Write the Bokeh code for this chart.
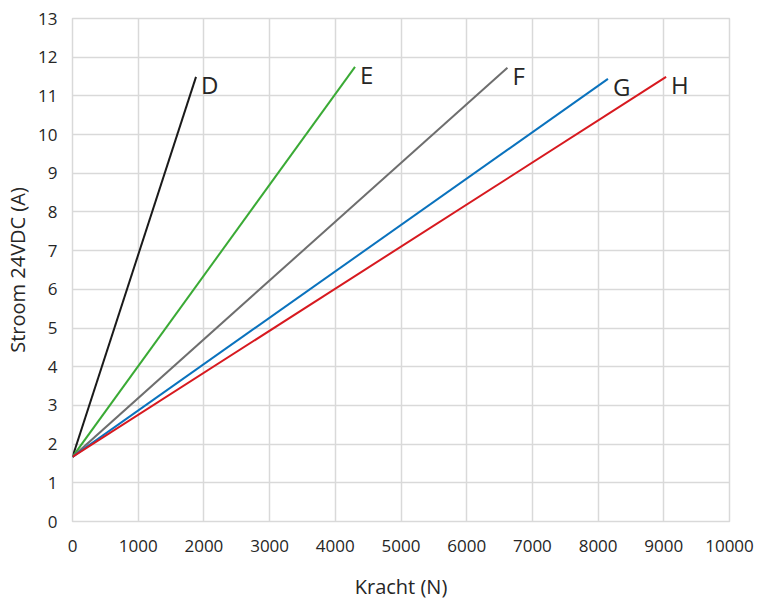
from bokeh.plotting import figure
from bokeh.embed import file_html
from bokeh.resources import INLINE
from bokeh.models import Range1d, FixedTicker, ColumnDataSource
from bokeh.core.properties import value

# series: start point (shared) and end point of each line
names = ["D", "E", "F", "G", "H"]
x_start = [0, 0, 0, 0, 0]
y_start = [1.67, 1.67, 1.67, 1.67, 1.67]
x_end = [1880, 4300, 6620, 8150, 9035]
y_end = [11.49, 11.75, 11.73, 11.44, 11.49]
colors = ["#1a1a1a", "#3aaa35", "#6e6e6e", "#0a72bd", "#d7191f"]

x_ticks = [0, 1000, 2000, 3000, 4000, 5000, 6000, 7000, 8000, 9000, 10000]
y_ticks = list(range(0, 14))

FONT = "Open Sans"
TXT = "#262626"
GRID = "#d9d9d9"

p = figure(width=774, height=605, output_backend="svg", toolbar_location=None,
           x_range=Range1d(0, 10000), y_range=Range1d(0, 13),
           frame_width=657, frame_height=503,
           min_border_left=72, min_border_top=18, min_border_right=45,
           min_border_bottom=84)
p.outline_line_color = GRID
p.outline_line_width = 1.5

for i in range(len(names)):
    p.line([x_start[i], x_end[i]], [y_start[i], y_end[i]],
           line_color=colors[i], line_width=2)

src = ColumnDataSource(data=dict(x=x_end, y=y_end, t=names))
p.text(x="x", y="y", text="t", source=src, x_offset=5, y_offset=-9,
       text_font=value(FONT), text_font_size="24px", text_color=TXT,
       text_baseline="top", text_align="left")

p.xaxis.ticker = FixedTicker(ticks=x_ticks)
p.yaxis.ticker = FixedTicker(ticks=y_ticks)
p.xgrid.ticker = FixedTicker(ticks=x_ticks)
p.ygrid.ticker = FixedTicker(ticks=y_ticks)
p.grid.grid_line_color = GRID
p.grid.grid_line_width = 1.5

for ax in (p.xaxis, p.yaxis):
    ax.axis_line_color = None
    ax.major_tick_line_color = None
    ax.minor_tick_line_color = None
    ax.major_tick_out = 0
    ax.major_tick_in = 0
    ax.minor_tick_out = 0
    ax.major_label_text_font = FONT
    ax.major_label_text_font_size = "17px"
    ax.major_label_text_color = TXT
    ax.axis_label_text_font = FONT
    ax.axis_label_text_font_size = "20px"
    ax.axis_label_text_font_style = "normal"
    ax.axis_label_text_color = TXT

p.xaxis.axis_label = "Kracht (N)"
p.yaxis.axis_label = "Stroom 24VDC (A)"
p.xaxis.major_label_standoff = 18
p.yaxis.major_label_standoff = 15
p.xaxis.axis_label_standoff = 18
p.yaxis.axis_label_standoff = 4

open("out.html", "w").write(file_html(p, INLINE))
